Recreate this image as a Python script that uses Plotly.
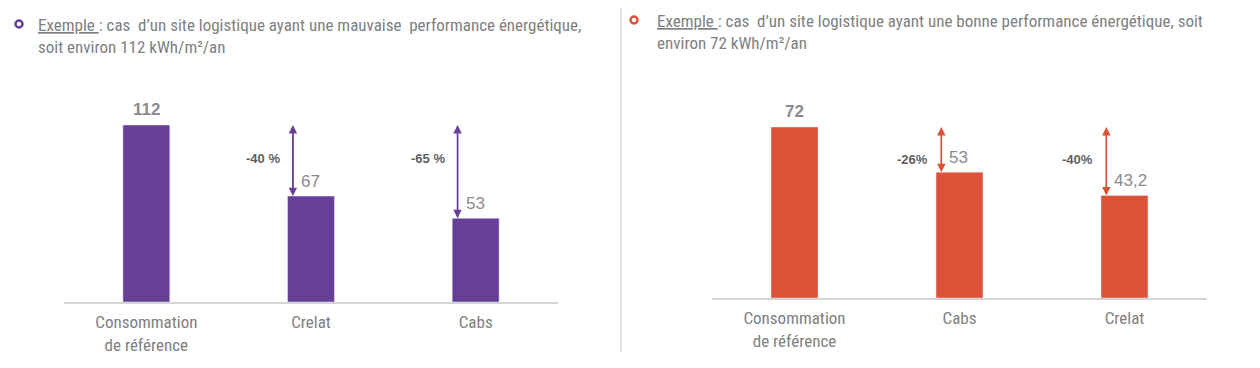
import plotly.graph_objects as go

# ---- data ----
left_categories = ["Consommation<br>de référence", "Crelat", "Cabs"]
left_values = [112, 67, 53]
left_reductions = ["-40 %", "-65 %"]

right_categories = ["Consommation<br>de référence", "Cabs", "Crelat"]
right_values = [72, 53, 43.2]
right_reductions = ["-26%", "-40%"]

left_title = ("<u>Exemple </u>: cas  d\u2019un site logistique ayant une mauvaise  performance énergétique,"
              "<br>soit environ 112 kWh/m²/an")
right_title = ("<u>Exemple </u>: cas  d\u2019un site logistique ayant une bonne performance énergétique, soit"
               "<br>environ 72 kWh/m²/an")

PURPLE = "#673f96"
RED = "#dc5238"
GRAY = "#808080"
NUMGRAY = "#8a8a8f"
DARK = "#5f5f5f"
FONT = "Liberation Sans Narrow, Arial Narrow, Roboto Condensed, sans-serif"
NUMFONT = "Liberation Sans, Arial, sans-serif"

# page body has an 8px margin: figure is sized to fit the window
OFF = 8
W, H = 1260 - OFF, 368 - OFF


def px_x(p):
    return (p - OFF) / W


def px_y(p):
    return 1 - (p - OFF) / H


def fmt(v):
    return f"{v:g}".replace(".", ",")


fig = go.Figure()
fig.add_trace(go.Bar(x=[0, 1, 2], y=left_values, width=0.285, marker_color=PURPLE,
                     xaxis="x", yaxis="y", hoverinfo="skip"))
fig.add_trace(go.Bar(x=[0, 1, 2], y=right_values, width=0.285, marker_color=RED,
                     xaxis="x2", yaxis="y2", hoverinfo="skip"))

annotations = []
ARROW_DX = -0.11


def panel(vals, reds, color, xa, ya):
    ref = vals[0]
    annotations.append(dict(x=0, y=ref, xref=xa, yref=ya, text="<b>" + fmt(ref) + "</b>",
                            showarrow=False, yshift=15, yanchor="middle", xanchor="center",
                            font=dict(family=NUMFONT, size=17, color=NUMGRAY)))
    for i in range(1, len(vals)):
        ax = i + ARROW_DX
        for (y_tip, y_tail) in [(vals[i], ref), (ref, vals[i])]:
            annotations.append(dict(x=ax, y=y_tip, ax=ax, ay=y_tail, xref=xa, yref=ya,
                                    axref=xa, ayref=ya, showarrow=True, arrowhead=2,
                                    arrowsize=1.2, arrowwidth=1.4, arrowcolor=color,
                                    standoff=0, text=""))
        annotations.append(dict(x=ax, y=ref * 0.81, xref=xa, yref=ya,
                                text="<b>" + reds[i - 1] + "</b>",
                                showarrow=False, xanchor="right", xshift=-11, yanchor="middle",
                                font=dict(family=NUMFONT, size=13, color=DARK)))
        annotations.append(dict(x=ax, y=vals[i], xref=xa, yref=ya, text=fmt(vals[i]),
                                showarrow=False, xanchor="left", xshift=6, yshift=15,
                                yanchor="middle", font=dict(family=NUMFONT, size=17, color=NUMGRAY)))


panel(left_values, left_reductions, PURPLE, "x", "y")
panel(right_values, right_reductions, RED, "x2", "y2")

annotations.append(dict(x=px_x(36), y=px_y(13), xref="paper", yref="paper", text=left_title,
                        showarrow=False, xanchor="left", yanchor="top", align="left",
                        font=dict(family=FONT, size=17, color=GRAY)))
annotations.append(dict(x=px_x(655), y=px_y(9), xref="paper", yref="paper", text=right_title,
                        showarrow=False, xanchor="left", yanchor="top", align="left",
                        font=dict(family=FONT, size=17, color=GRAY)))

shapes = [
    dict(type="line", xref="paper", yref="paper", x0=px_x(621), x1=px_x(621), y0=px_y(352), y1=1,
         line=dict(color="#c8c8c8", width=1)),
    dict(type="circle", xref="paper", yref="paper", xsizemode="pixel", ysizemode="pixel",
         xanchor=px_x(19), yanchor=px_y(24), x0=-3.5, x1=3.5, y0=-3.5, y1=3.5,
         line=dict(color=PURPLE, width=2.5), fillcolor="white"),
    dict(type="circle", xref="paper", yref="paper", xsizemode="pixel", ysizemode="pixel",
         xanchor=px_x(634), yanchor=px_y(20), x0=-3.5, x1=3.5, y0=-3.5, y1=3.5,
         line=dict(color=RED, width=2.5), fillcolor="white"),
]

xcommon = dict(tickmode="array", tickvals=[0, 1, 2], range=[-0.5, 2.5], showline=True,
               linecolor="#d4d4d4", linewidth=2, showgrid=False, zeroline=False, ticks="",
               ticklabelstandoff=4,
               tickfont=dict(family=FONT, size=17, color=GRAY), fixedrange=True)
ycommon = dict(visible=False, showgrid=False, zeroline=False, fixedrange=True)

L_BASE, R_BASE, TOP = 302, 298, 60
fig.update_layout(
    width=W, height=H, autosize=False,
    margin=dict(l=0, r=0, t=0, b=0),
    paper_bgcolor="white", plot_bgcolor="white", showlegend=False,
    xaxis=dict(domain=[px_x(64), px_x(558)], anchor="y", ticktext=left_categories, **xcommon),
    yaxis=dict(domain=[px_y(L_BASE), px_y(TOP)], range=[0, (L_BASE - TOP) / (177 / 112)],
               anchor="x", **ycommon),
    xaxis2=dict(domain=[px_x(712), px_x(1207)], anchor="y2", ticktext=right_categories, **xcommon),
    yaxis2=dict(domain=[px_y(R_BASE), px_y(TOP)], range=[0, (R_BASE - TOP) / (171 / 72)],
                anchor="x2", **ycommon),
    annotations=annotations, shapes=shapes,
)

fig.write_html("out.html")
